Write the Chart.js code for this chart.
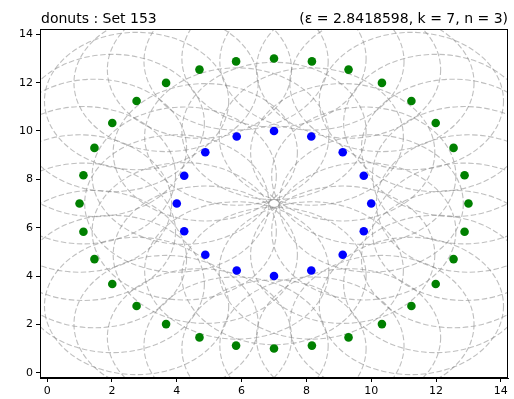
<!DOCTYPE html>
<html>
<head>
<meta charset="utf-8">
<script src="https://cdn.jsdelivr.net/npm/chart.js@4/dist/chart.umd.min.js"></script>
<style>
  html, body { margin: 0; padding: 0; background: #fff; }
  canvas { display: block; }
</style>
</head>
<body>
<canvas id="chart" width="514" height="399"></canvas>
<script>
// values
const titleLeft = "donuts : Set 153"
const titleRight = "(ε = 2.8418598, k = 7, n = 3)"
const epsilon = 2.8418598

const outerX = [7, 8.17, 9.30, 10.33, 11.24, 11.99, 12.54, 12.88, 13, 12.88, 12.54, 11.99, 11.24, 10.33, 9.30, 8.17,
                7, 5.83, 4.70, 3.67, 2.76, 2.01, 1.46, 1.12, 1, 1.12, 1.46, 2.01, 2.76, 3.67, 4.70, 5.83]
const outerY = [13, 12.88, 12.54, 11.99, 11.24, 10.33, 9.30, 8.17, 7, 5.83, 4.70, 3.67, 2.76, 2.01, 1.46, 1.12,
                1, 1.12, 1.46, 2.01, 2.76, 3.67, 4.70, 5.83, 7, 8.17, 9.30, 10.33, 11.24, 11.99, 12.54, 12.88]
const innerX = [7, 8.15, 9.12, 9.77, 10, 9.77, 9.12, 8.15, 7, 5.85, 4.88, 4.23, 4, 4.23, 4.88, 5.85]
const innerY = [10, 9.77, 9.12, 8.15, 7, 5.85, 4.88, 4.23, 4, 4.23, 4.88, 5.85, 7, 8.15, 9.12, 9.77]

const xTicks = [0, 2, 4, 6, 8, 10, 12, 14]
const yTicks = [0, 2, 4, 6, 8, 10, 12, 14]
const axisMin = -0.22
const axisMax = 14.22

function toPoints(xs, ys){
  return xs.map((x, i) => ({x: x, y: ys[i]}))
}

// dashed eps-circles round every point, drawn through the scales
const circlesPlugin = {
  id: 'circles',
  beforeDatasetsDraw(chart){
    const ctx = chart.ctx
    const xs = chart.scales.x, ys = chart.scales.y
    const area = chart.chartArea
    ctx.save()
    ctx.beginPath()
    ctx.rect(area.left, area.top, area.right - area.left, area.bottom - area.top)
    ctx.clip()
    ctx.strokeStyle = 'rgba(128,128,128,0.5)'
    ctx.lineWidth = 1.1
    ctx.setLineDash([5.5, 2.5])
    const all = toPoints(outerX.concat(innerX), outerY.concat(innerY))
    all.forEach(p => {
      const cx = xs.getPixelForValue(p.x)
      const cy = ys.getPixelForValue(p.y)
      const rx = Math.abs(xs.getPixelForValue(p.x + epsilon) - cx)
      const ry = Math.abs(ys.getPixelForValue(p.y + epsilon) - cy)
      ctx.beginPath()
      ctx.ellipse(cx, cy, rx, ry, 0, 0, Math.PI * 2)
      ctx.stroke()
    })
    ctx.restore()
  },
  afterDraw(chart){
    const ctx = chart.ctx
    const area = chart.chartArea
    ctx.save()
    ctx.strokeStyle = '#000'
    ctx.lineWidth = 1
    ctx.strokeRect(area.left + 0.5, area.top + 0.5, area.right - area.left - 1, area.bottom - area.top - 1)
    ctx.fillStyle = '#000'
    ctx.font = '14px "DejaVu Sans"'
    ctx.textBaseline = 'alphabetic'
    ctx.textAlign = 'left'
    ctx.fillText(titleLeft, 41, 23)
    ctx.textAlign = 'right'
    ctx.fillText(titleRight, 508, 23)
    ctx.restore()
  }
}

const ctx = document.getElementById('chart')
const chart = new Chart(ctx, {
  type: 'scatter',
  data: {
    datasets: [
      {
        data: toPoints(outerX, outerY),
        backgroundColor: '#008000',
        borderColor: '#008000',
        pointRadius: 4.3,
        pointBorderWidth: 0
      },
      {
        data: toPoints(innerX, innerY),
        backgroundColor: '#0000ff',
        borderColor: '#0000ff',
        pointRadius: 4.3,
        pointBorderWidth: 0
      }
    ]
  },
  options: {
    responsive: false,
    animation: false,
    layout: { padding: { top: 29, right: 6, left: 0, bottom: 0 } },
    plugins: { legend: { display: false }, tooltip: { enabled: false } },
    scales: {
      x: {
        type: 'linear',
        min: axisMin,
        max: axisMax,
        afterBuildTicks: s => { s.ticks = xTicks.map(v => ({value: v})) },
        afterFit: s => { s.height = 21 },
        grid: { drawOnChartArea: false, drawTicks: true, tickLength: 4, color: '#000' },
        border: { color: '#000' },
        ticks: { color: '#000', padding: 3, font: { family: 'DejaVu Sans', size: 11 } }
      },
      y: {
        type: 'linear',
        min: axisMin,
        max: axisMax,
        afterBuildTicks: s => { s.ticks = yTicks.map(v => ({value: v})) },
        afterFit: s => { s.width = 40 },
        grid: { drawOnChartArea: false, drawTicks: true, tickLength: 4, color: '#000' },
        border: { color: '#000' },
        ticks: { color: '#000', padding: 3, font: { family: 'DejaVu Sans', size: 11 } }
      }
    }
  },
  plugins: [circlesPlugin]
})
</script>
</body>
</html>
